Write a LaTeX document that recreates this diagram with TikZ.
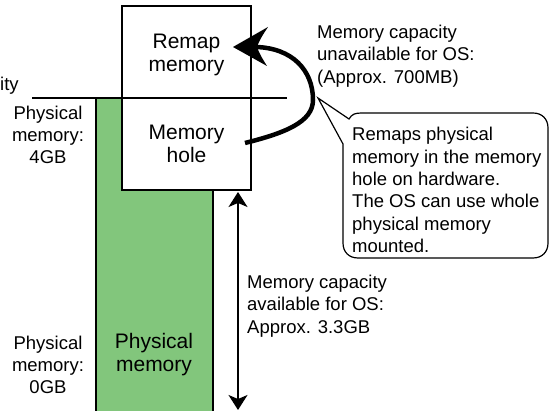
\documentclass[tikz,border=0pt]{standalone}
\usepackage{fontspec}
\setmainfont{Liberation Sans}
\usetikzlibrary{arrows.meta}
\definecolor{pmgreen}{RGB}{130,198,124}
\begin{document}
\begin{tikzpicture}[x=1pt,y=-1pt,
  thin line/.style={line width=1.4pt},
  memblock/.style={draw, thin line, fill=white, minimum width=129pt, minimum height=92pt, inner sep=0pt, outer sep=0pt, anchor=north west},
  big/.style={font=\fontsize{21}{23}\selectfont, align=center, inner sep=0pt},
  ann/.style={font=\fontsize{18.5}{22.3}\selectfont, inner sep=0pt},
  remapline/.style={line width=4.5pt},
  sizearrow/.style={thin line, {Stealth[length=15pt,width=19pt,inset=4pt]}-{Stealth[length=15pt,width=19pt,inset=4pt]}}
]
\clip (0,0) rectangle (549,411);
\useasboundingbox (0,0) rectangle (549,411);

% physical memory bar
\draw[thin line, fill=pmgreen] (96,430) -- (96,98) -- (213,98) -- (213,430);
\node[big] (phys) at (154,355) {Physical\\memory};

% 4GB boundary line
\coordinate (lineL) at (32,98);
\coordinate (lineR) at (287,98);
\draw[thin line] (lineL) -- (lineR);

% blocks
\node[memblock] (remap) at (122,6) {};
\node[memblock] (hole) at (122,98) {};
\node[big] at ([yshift=-3pt]remap.center) {Remap\\memory};
\node[big] at (hole.center) {Memory\\hole};

% left labels
\node[ann, anchor=base west] (ity) at (0,91) {ity};
\node[ann, align=center] (lbl4) at (48,135) {Physical\\memory:\\4GB};
\node[ann, align=center] (lbl0) at (48,365) {Physical\\memory:\\0GB};

% remap arrow
\coordinate (rs) at (245,143);
\coordinate (rm) at (313,100);
\coordinate (re) at (256,47);
\coordinate (tip) at (233,47);
\draw[remapline] (rs) .. controls (285,133) and (313,122) .. (rm)
  .. controls (313,70) and (292,48) .. (re);
\fill (tip) -- (268,27) .. controls (262,36) and (259,41) .. (257,47)
  .. controls (259,53) and (262,58) .. (267,66) -- cycle;

\node[ann, align=left, anchor=west] (unavail) at (317,56) {Memory capacity\\unavailable for OS:\\(Approx. 700MB)};

% callout
\draw[line width=1.2pt] (318,98) -- (349,119) .. controls (352,114) and (355,113) .. (362,113)
  -- (533,113) .. controls (542,113) and (548,119) .. (548,128)
  -- (548,243) .. controls (548,252) and (542,258) .. (533,258)
  -- (358,258) .. controls (349,258) and (343,252) .. (343,243)
  -- (343,144) -- cycle;
\node[ann, align=left, anchor=west] (callout) at (352,190) {Remaps physical\\memory in the memory\\hole on hardware.\\The OS can use whole\\physical memory\\mounted.};

% available size arrow
\coordinate (at) at (238,192);
\coordinate (ab) at (238,410);
\draw[sizearrow] (at) -- (ab);
\node[ann, align=left, anchor=west] (avail) at (247,306) {Memory capacity\\available for OS:\\Approx. 3.3GB};
\end{tikzpicture}
\end{document}
